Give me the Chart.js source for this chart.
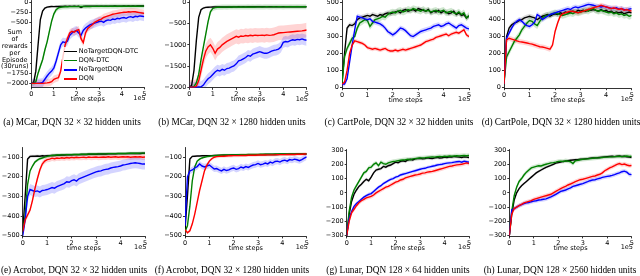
<!DOCTYPE html>
<html><head><meta charset="utf-8">
<script src="https://cdn.jsdelivr.net/npm/chart.js@4"></script>
<style>
html,body{margin:0;padding:0;background:#fff;width:640px;height:276px;overflow:hidden;position:relative}
canvas{position:absolute}
.t{position:absolute;font-family:"DejaVu Sans";font-size:6.5px;color:#000;white-space:nowrap;line-height:1}
.cap{position:absolute;font-family:"Liberation Serif";font-size:9.3px;color:#000;white-space:nowrap;line-height:1;transform:translateX(-50%)}
</style></head><body>
<script>
// ---------- DATA ----------
const seriesNames = ['NoTargetDQN-DTC', 'DQN-DTC', 'NoTargetDQN', 'DQN'];
const timeSteps = [0,0.1,0.2,0.3,0.4,0.5,0.6,0.7,0.8,0.9,1,1.1,1.2,1.3,1.4,1.5,1.6,1.7,1.8,1.9,2,2.1,2.2,2.3,2.4,2.5,2.6,2.7,2.8,2.9,3,3.1,3.2,3.3,3.4,3.5,3.6,3.7,3.8,3.9,4,4.1,4.2,4.3,4.4,4.5,4.6,4.7,4.8,4.9,5];
const xTicks = [0,1,2,3,4,5];
const yTicksMCarA = [0,-250,-500,-750,-1000,-1250,-1500,-1750,-2000];
const yTicksMCarB = [0,-500,-1000,-1500,-2000];
const yTicksCart = [0,100,200,300,400,500];
const yTicksAcro = [-100,-200,-300,-400,-500];
const yTicksLunar = [300,200,100,0,-100,-200,-300];

// (a) MCar 32x32
const aBlack = [-2000,-1990,-1700,-1050,-430,-220,-150,-125,-115,-110,-112,-108,-110,-106,-109,-105,-108,-104,-107,-105,-106,-104,-135,-106,-103,-105,-102,-104,-101,-103,-102,-100,-103,-101,-102,-100,-101,-99,-102,-100,-101,-99,-100,-98,-101,-99,-100,-98,-99,-98,-99];
const aGreen = [-2000,-2000,-1960,-1750,-1580,-1420,-1180,-980,-720,-470,-290,-190,-145,-128,-120,-115,-117,-112,-114,-110,-112,-109,-111,-108,-110,-107,-109,-106,-108,-105,-107,-105,-106,-104,-106,-103,-105,-103,-104,-102,-104,-102,-103,-101,-103,-101,-102,-100,-102,-100,-101];
const aBlue = [-2000,-2000,-2000,-1995,-1990,-1980,-1900,-1820,-1750,-1700,-1620,-1450,-1250,-1050,-980,-1000,-960,-820,-760,-720,-700,-760,-820,-700,-640,-600,-560,-540,-520,-500,-480,-470,-500,-460,-440,-450,-420,-430,-400,-410,-390,-380,-400,-370,-360,-380,-350,-360,-340,-350,-360];
const aRed = [-2000,-2000,-2000,-2000,-2000,-2000,-1995,-1990,-1980,-1960,-1900,-1880,-1860,-1700,-1350,-1050,-900,-760,-720,-740,-700,-680,-900,-1000,-760,-650,-600,-560,-500,-470,-440,-420,-380,-360,-340,-320,-300,-290,-280,-270,-260,-250,-250,-240,-245,-235,-240,-250,-260,-270,-280];
const spreadA = [25, 60, 110, 90];

// (b) MCar 32x1280
const bBlack = [-2000,-1960,-1600,-900,-350,-170,-130,-115,-110,-108,-107,-105,-106,-104,-105,-103,-104,-102,-104,-102,-103,-101,-102,-100,-102,-101,-100,-99,-101,-100,-99,-100,-98,-100,-99,-98,-100,-99,-98,-100,-99,-98,-99,-97,-99,-98,-97,-99,-98,-97,-98];
const bGreen = [-2000,-2000,-1980,-1900,-1700,-1350,-1050,-750,-450,-220,-140,-120,-112,-110,-108,-107,-108,-106,-107,-105,-106,-104,-105,-104,-105,-103,-104,-102,-104,-103,-102,-104,-102,-101,-103,-102,-100,-102,-101,-100,-102,-100,-101,-99,-101,-100,-99,-101,-100,-99,-100];
const bBlue = [-2000,-2000,-2000,-2000,-1995,-1990,-1950,-1870,-1800,-1760,-1700,-1640,-1600,-1620,-1580,-1600,-1560,-1550,-1520,-1500,-1450,-1380,-1360,-1330,-1300,-1250,-1270,-1220,-1200,-1180,-1160,-1180,-1200,-1200,-1180,-1150,-1130,-1120,-1100,-1050,-940,-920,-930,-900,-880,-890,-870,-880,-860,-880,-890];
const bRed = [-2000,-2000,-2000,-1980,-1850,-1600,-1350,-1150,-1050,-1000,-1080,-1200,-1100,-1060,-1000,-960,-920,-890,-860,-830,-800,-820,-790,-800,-780,-790,-775,-785,-770,-780,-775,-770,-780,-765,-775,-770,-760,-740,-720,-715,-710,-705,-700,-695,-690,-685,-680,-675,-670,-660,-650];
const spreadB = [30, 60, 130, 170];

// (c) CartPole 32x32
const cBlack = [25,200,350,370,365,375,400,410,415,420,425,420,430,425,420,430,425,435,440,435,440,445,450,440,455,460,450,455,460,450,465,460,455,450,460,440,450,445,455,440,450,445,435,440,450,430,440,425,430,410,420];
const cGreen = [20,180,230,260,290,300,350,380,390,400,395,360,380,400,405,410,420,415,430,440,445,440,450,455,445,450,460,455,465,460,455,450,460,450,455,445,450,455,445,450,455,440,445,450,440,435,445,430,440,410,425];
const cBlue = [20,20,50,150,250,340,420,415,410,405,400,405,390,385,380,375,365,350,330,320,310,320,335,350,345,335,320,305,300,310,320,330,335,340,345,350,360,365,370,360,365,375,380,370,360,350,365,370,360,350,345];
const cRed = [20,30,100,200,250,275,270,265,260,250,235,230,225,230,225,220,225,230,220,215,215,220,215,220,225,220,225,230,235,240,245,250,260,270,275,280,285,295,300,305,310,315,305,315,320,325,320,330,340,310,300];
const spreadC = [15, 20, 15, 12];

// (d) CartPole 32x1280
const dBlack = [20,300,350,370,380,385,395,400,410,415,420,415,410,400,410,420,425,430,420,430,435,430,440,435,445,440,445,450,445,455,450,455,450,460,455,460,455,450,460,450,455,445,450,440,445,440,445,435,440,445,440];
const dGreen = [20,180,210,240,270,290,310,340,360,380,395,390,375,365,390,410,420,425,430,435,440,435,430,425,430,435,440,435,445,440,445,450,455,450,460,465,455,450,455,450,445,440,445,435,440,430,435,425,430,420,425];
const dBlue = [20,290,320,350,375,390,400,390,375,365,360,370,385,430,420,400,410,420,430,435,440,445,450,455,460,465,460,470,475,470,475,480,485,490,488,485,480,478,475,478,475,470,468,465,470,462,465,460,458,462,465];
const dRed = [20,280,290,285,280,275,270,268,265,262,258,255,250,245,240,238,235,230,225,250,330,380,420,435,440,445,450,448,445,440,445,450,455,460,465,470,475,478,485,480,475,470,465,470,465,460,465,455,460,455,450];
const spreadD = [15, 20, 15, 15];

// (e) Acrobot 32x32
const eBlack = [-480,-300,-110,-96,-95,-95,-94,-95,-93,-94,-92,-92,-91,-91,-90,-90,-89,-89,-88,-88,-88,-87,-87,-87,-86,-86,-86,-85,-85,-85,-85,-84,-84,-84,-84,-83,-83,-83,-83,-82,-82,-82,-82,-82,-81,-81,-81,-81,-81,-80,-80];
const eGreen = [-480,-400,-240,-170,-145,-125,-115,-108,-104,-100,-96,-93,-91,-90,-89,-89,-88,-88,-87,-87,-87,-86,-86,-86,-85,-85,-85,-84,-84,-84,-84,-83,-83,-83,-83,-82,-82,-82,-82,-81,-81,-81,-81,-80,-80,-80,-80,-80,-79,-79,-79];
const eBlue = [-500,-420,-300,-265,-270,-275,-272,-278,-270,-268,-265,-260,-255,-258,-250,-245,-240,-235,-225,-228,-220,-215,-222,-210,-205,-200,-195,-190,-185,-180,-175,-172,-170,-165,-162,-160,-155,-152,-150,-148,-145,-140,-138,-135,-132,-130,-128,-130,-132,-135,-135];
const eRed = [-480,-420,-395,-370,-320,-260,-210,-165,-135,-120,-112,-110,-105,-108,-104,-106,-103,-105,-102,-104,-101,-103,-100,-102,-101,-100,-102,-99,-101,-100,-99,-101,-100,-99,-100,-98,-100,-99,-98,-100,-99,-98,-99,-98,-100,-99,-98,-99,-98,-100,-99];
const spreadE = [8, 8, 28, 14];

// (f) Acrobot 32x1280
const fBlack = [-470,-300,-110,-96,-95,-94,-94,-93,-93,-92,-92,-92,-91,-91,-91,-90,-90,-90,-90,-89,-89,-89,-89,-88,-88,-88,-88,-88,-87,-87,-87,-87,-87,-86,-86,-86,-86,-86,-86,-85,-85,-85,-85,-85,-85,-85,-84,-84,-84,-84,-84];
const fGreen = [-480,-450,-350,-220,-150,-120,-110,-104,-100,-97,-95,-93,-92,-91,-90,-90,-89,-89,-88,-88,-88,-88,-87,-87,-87,-87,-86,-86,-86,-86,-86,-85,-85,-85,-85,-85,-85,-84,-84,-84,-84,-84,-84,-83,-83,-83,-83,-83,-83,-83,-83];
const fBlue = [-450,-200,-170,-165,-155,-148,-135,-145,-150,-145,-140,-150,-160,-158,-165,-170,-162,-168,-165,-158,-155,-162,-158,-150,-155,-148,-152,-145,-140,-138,-132,-138,-135,-130,-134,-125,-130,-122,-120,-125,-118,-115,-120,-112,-115,-110,-113,-118,-112,-105,-98];
const fRed = [-470,-485,-475,-440,-390,-330,-270,-220,-170,-140,-120,-108,-100,-97,-96,-95,-95,-94,-93,-93,-92,-92,-92,-91,-91,-91,-90,-90,-90,-90,-89,-89,-89,-89,-88,-88,-88,-88,-87,-87,-87,-87,-86,-86,-86,-86,-85,-85,-85,-84,-84];
const spreadF = [5, 6, 16, 8];

// (g) Lunar 128x64
const gBlack = [-300,-150,-60,-10,20,45,60,80,95,85,110,140,160,165,170,185,180,190,195,205,215,210,220,225,220,230,235,230,238,240,242,238,240,245,242,240,245,248,244,246,250,248,252,250,255,252,250,248,252,250,248];
const gGreen = [-300,-130,-30,20,50,80,110,140,150,175,180,200,210,190,215,205,200,210,215,220,222,225,228,230,232,235,232,238,240,242,244,245,246,248,250,252,250,253,255,254,256,255,258,256,258,260,258,260,262,260,262];
const gBlue = [-300,-180,-130,-95,-75,-60,-45,-30,-20,-10,-5,10,25,40,50,65,75,85,95,100,110,115,125,130,135,140,145,150,155,160,165,170,172,178,182,186,190,195,198,200,205,208,210,212,215,218,220,215,222,218,215];
const gRed = [-300,-200,-140,-115,-90,-70,-55,-45,-35,-30,-25,-15,0,10,20,30,40,45,55,65,75,80,90,95,105,110,115,120,125,128,132,138,140,145,148,150,155,160,165,170,175,180,185,188,192,196,198,200,205,210,205];
const spreadG = [12, 15, 12, 15];

// (h) Lunar 128x2560
const hBlack = [-300,-150,-50,0,30,50,65,80,95,110,125,140,150,160,170,178,185,192,200,208,212,215,220,222,225,228,230,232,232,235,236,238,240,242,244,245,246,248,250,252,254,255,256,254,256,258,255,256,252,250,248];
const hGreen = [-300,-130,-20,40,80,100,125,145,160,175,180,185,190,188,195,200,205,210,212,215,220,222,220,225,222,218,205,225,228,232,235,236,238,240,242,244,245,246,248,250,250,252,252,254,255,256,254,256,258,255,256];
const hBlue = [-300,-120,-110,-100,-90,-82,-75,-70,-68,-62,-58,-55,-50,-48,-45,-42,-35,-28,-20,-10,0,10,15,20,28,35,45,50,55,60,65,72,78,85,90,92,98,102,108,112,115,118,122,128,135,140,148,152,145,130,128];
const hRed = [-300,-150,-110,-100,-90,-80,-70,-65,-60,-55,-45,-40,-35,-30,-25,-20,-15,-10,0,10,20,30,38,45,55,62,70,78,85,92,95,100,105,110,115,118,125,130,140,155,165,175,182,190,200,205,198,202,195,190,192];
const spreadH = [10, 15, 15, 15];

// ---------- STYLE / LAYOUT ----------
const lineColors = ['#000000', '#008000', '#0000ff', '#ff0000'];
const bandColors = ['rgba(0,0,0,0.13)', 'rgba(0,128,0,0.18)', 'rgba(0,0,255,0.17)', 'rgba(255,0,0,0.17)'];
const tickFont = {family: 'DejaVu Sans', size: 6.5};

const panels = [
  {L:31.3, R:144.3, T:0, B:87.4, ymin:-2100, ymax:50, yt:yTicksMCarA, s:[aBlack,aGreen,aBlue,aRed], sp:spreadA, cap:'(a) MCar, DQN 32 × 32 hidden units', cx:72, cy:123},
  {L:189.3, R:306.7, T:0, B:87.8, ymin:-2015, ymax:60, yt:yTicksMCarB, s:[bBlack,bGreen,bBlue,bRed], sp:spreadB, cap:'(b) MCar, DQN 32 × 1280 hidden units', cx:232, cy:123},
  {L:342, R:469, T:0, B:88.2, ymin:-5, ymax:516, yt:yTicksCart, s:[cBlack,cGreen,cBlue,cRed], sp:spreadC, cap:'(c) CartPole, DQN 32 × 32 hidden units', cx:399, cy:123},
  {L:504, R:631.7, T:0, B:88.2, ymin:-5, ymax:516, yt:yTicksCart, s:[dBlack,dGreen,dBlue,dRed], sp:spreadD, cap:'(d) CartPole, DQN 32 × 1280 hidden units', cx:561, cy:123},
  {L:22.7, R:145, T:147, B:236.4, ymin:-504, ymax:-48, yt:yTicksAcro, s:[eBlack,eGreen,eBlue,eRed], sp:spreadE, cap:'(e) Acrobot, DQN 32 × 32 hidden units', cx:74, cy:270.7},
  {L:185, R:306.7, T:147, B:236.4, ymin:-504, ymax:-48, yt:yTicksAcro, s:[fBlack,fGreen,fBlue,fRed], sp:spreadF, cap:'(f) Acrobot, DQN 32 × 1280 hidden units', cx:232, cy:270.7},
  {L:346.7, R:469, T:149.3, B:236.4, ymin:-305, ymax:305, yt:yTicksLunar, s:[gBlack,gGreen,gBlue,gRed], sp:spreadG, cap:'(g) Lunar, DQN 128 × 64 hidden units', cx:398, cy:270.7},
  {L:509.3, R:631.7, T:149.3, B:236.4, ymin:-305, ymax:305, yt:yTicksLunar, s:[hBlack,hGreen,hBlue,hRed], sp:spreadH, cap:'(h) Lunar, DQN 128 × 2560 hidden units', cx:560, cy:270.7}
];

function fmt(v){ return v < 0 ? '\u2212' + Math.abs(v) : String(v); }
function addText(cls, txt, left, top, extra){
  const d = document.createElement('div');
  d.className = cls; d.textContent = txt;
  d.style.left = left + 'px'; d.style.top = top + 'px';
  if (extra) Object.assign(d.style, extra);
  document.body.appendChild(d);
  return d;
}

function makePanel(p){
  const CL = Math.round(p.L) - 34, CT = Math.round(p.T) - 8;
  const CR = Math.round(p.R) + 8, CB = Math.round(p.B) + 12;
  const c = document.createElement('canvas');
  c.width = CR - CL; c.height = CB - CT;
  c.style.left = CL + 'px'; c.style.top = CT + 'px';
  c.style.width = (CR - CL) + 'px'; c.style.height = (CB - CT) + 'px';
  document.body.appendChild(c);
  const yW = p.L - CL, xH = CB - p.B;
  const datasets = [];
  p.s.forEach((vals, k) => {
    datasets.push({data: vals.map((v,i)=>({x: timeSteps[i], y: v - p.sp[k]})), borderWidth:0, borderColor:'rgba(0,0,0,0)', pointRadius:0, fill:false, order:10});
    datasets.push({data: vals.map((v,i)=>({x: timeSteps[i], y: v + p.sp[k]})), borderWidth:0, borderColor:'rgba(0,0,0,0)', pointRadius:0, fill:'-1', backgroundColor: bandColors[k], order:10});
  });
  p.s.forEach((vals, k) => {
    datasets.push({label: seriesNames[k], data: vals.map((v,i)=>({x: timeSteps[i], y: v})), borderColor: lineColors[k], borderWidth: 1.4, pointRadius:0, fill:false, order: 4 - k});
  });
  const axisCommon = {
    grid:{display:true, drawOnChartArea:false, drawTicks:true, tickLength:2, color:'#000', lineWidth:0.8},
    border:{display:true, color:'#000', width:0.8}
  };
  new Chart(c, {
    type:'line',
    data:{datasets},
    options:{
      responsive:false, animation:false, devicePixelRatio:1,
      layout:{padding:{left:0, top:p.T - CT, right:CR - p.R, bottom:0}},
      plugins:{legend:{display:false}, tooltip:{enabled:false}, filler:{drawTime:'beforeDatasetsDraw'}},
      elements:{point:{radius:0}, line:{tension:0}},
      scales:{
        x:Object.assign({type:'linear', min:0, max:5,
          afterBuildTicks: s => { s.ticks = xTicks.map(v => ({value:v})); },
          afterFit: s => { s.height = xH; },
          ticks:{font:tickFont, color:'#000', padding:1, maxRotation:0, autoSkip:false, callback: v => fmt(v)}
        }, axisCommon),
        y:Object.assign({type:'linear', min:p.ymin, max:p.ymax,
          afterBuildTicks: s => { s.ticks = p.yt.map(v => ({value:v})); },
          afterFit: s => { s.width = yW; },
          ticks:{font:tickFont, color:'#000', padding:1, autoSkip:false, callback: v => fmt(v)}
        }, axisCommon)
      }
    }
  });
  const tsw = 36;
  addText('t', 'time steps', (p.L + p.R)/2 - tsw/2, p.B + 8.5, {width: tsw+'px', textAlign:'center'});
  addText('t', '1e5', p.R - 11, p.B + 8);
  addText('cap', p.cap, p.cx, p.cy - 5);
}

panels.forEach(makePanel);

// y-axis label of panel (a)
addText('t', 'Sum\nof\nrewards\nper\nEpisode\n(30runs)', 0, 28.9, {width:'29.5px', height:'41.4px', textAlign:'center', whiteSpace:'pre', lineHeight:'6.9px', background:'#fff'});

// legend of panel (a)
const legendY = [51.7, 60.7, 70, 79];
const lg = document.createElement('div');
Object.assign(lg.style, {position:'absolute', left:'62px', top:'47px', width:'82px', height:'36px', background:'rgba(255,255,255,0.8)'});
document.body.appendChild(lg);
seriesNames.forEach((n, k) => {
  const ln = document.createElement('div');
  Object.assign(ln.style, {position:'absolute', left:'64px', top:(legendY[k]-0.65)+'px', width:'13px', height:'1.3px', background: lineColors[k]});
  document.body.appendChild(ln);
  addText('t', n, 78.8, legendY[k] - 3.6);
});
</script>
</body></html>
